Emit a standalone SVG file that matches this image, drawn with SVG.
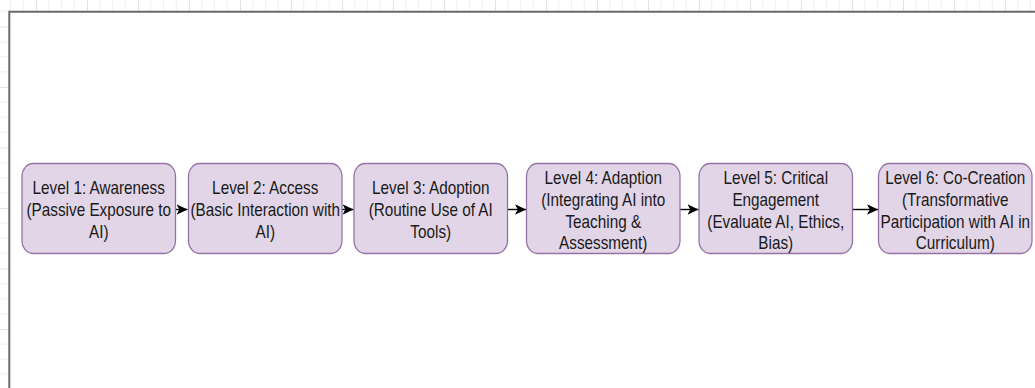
<svg xmlns="http://www.w3.org/2000/svg" width="1035" height="388" viewBox="0 0 1035 388">
  <defs>
    <style>
      .node { fill: #e1d5e7; stroke: #9673a6; stroke-width: 1.3; }
      .lbl { font-family: "Liberation Sans", Arial, sans-serif; font-size: 15.3px; fill: #1a1a1a; text-anchor: middle; }
      .edge { fill: none; stroke: #000; stroke-width: 1.4; }
      .minor { stroke: #f0f0f0; stroke-width: 1; }
      .major { stroke: #e2e2e2; stroke-width: 1; }
    </style>
    <!-- canvas grid: one major cell with three minor subdivisions each way -->
    <pattern id="grid" patternUnits="userSpaceOnUse" x="36" y="26.5" width="51" height="60.5">
      <rect width="51" height="60.5" fill="#fff"/>
      <path class="minor" d="M12.75 0V60.5M25.5 0V60.5M38.25 0V60.5M0 15.125H51M0 30.25H51M0 45.375H51"/>
      <path class="major" d="M0.5 0V60.5M0 0.5H51"/>
    </pattern>
    <marker id="arrow" viewBox="0 0 11 11" refX="11" refY="5.5" markerWidth="11" markerHeight="11" markerUnits="userSpaceOnUse" orient="auto">
      <path d="M0 0.3L11 5.5L0 10.7L2.8 5.5Z" fill="#000"/>
    </marker>
  </defs>

  <!-- background grid and page -->
  <rect width="1035" height="388" fill="url(#grid)"/>
  <rect x="9.3" y="11.7" width="1030" height="380" fill="#fff"/>
  <path d="M9.3 388V11.7H1035" fill="none" stroke="#6b6b6b" stroke-width="2"/>

  <!-- connectors -->
  <g id="edges">
    <path class="edge" d="M175.5 209.5H187.5" marker-end="url(#arrow)"/>
    <path class="edge" d="M342 209.5H353.5" marker-end="url(#arrow)"/>
    <path class="edge" d="M507.5 209.5H526" marker-end="url(#arrow)"/>
    <path class="edge" d="M680 209.5H698.5" marker-end="url(#arrow)"/>
    <path class="edge" d="M852.5 209.5H878" marker-end="url(#arrow)"/>
  </g>

  <g id="level1">
    <rect class="node" x="22" y="163.5" width="153.5" height="90" rx="11" ry="13"/>
    <text class="lbl" transform="translate(98.75 194.3) scale(1 1.185)">Level 1: Awareness</text>
    <text class="lbl" transform="translate(98.75 216) scale(1 1.185)">(Passive Exposure to</text>
    <text class="lbl" transform="translate(98.75 237.7) scale(1 1.185)">AI)</text>
  </g>

  <g id="level2">
    <rect class="node" x="188.5" y="163.5" width="153.5" height="90" rx="11" ry="13"/>
    <text class="lbl" transform="translate(265.25 194.3) scale(1 1.185)">Level 2: Access</text>
    <text class="lbl" transform="translate(265.25 216) scale(1 1.185)">(Basic Interaction with</text>
    <text class="lbl" transform="translate(265.25 237.7) scale(1 1.185)">AI)</text>
  </g>

  <g id="level3">
    <rect class="node" x="354" y="163.5" width="153.5" height="90" rx="11" ry="13"/>
    <text class="lbl" transform="translate(430.75 194.3) scale(1 1.185)">Level 3: Adoption</text>
    <text class="lbl" transform="translate(430.75 216) scale(1 1.185)">(Routine Use of AI</text>
    <text class="lbl" transform="translate(430.75 237.7) scale(1 1.185)">Tools)</text>
  </g>

  <g id="level4">
    <rect class="node" x="526.5" y="163.5" width="153.5" height="90" rx="11" ry="13"/>
    <text class="lbl" transform="translate(603.25 184.2) scale(1 1.185)">Level 4: Adaption</text>
    <text class="lbl" transform="translate(603.25 205.9) scale(1 1.185)">(Integrating AI into</text>
    <text class="lbl" transform="translate(603.25 227.6) scale(1 1.185)">Teaching &amp;</text>
    <text class="lbl" transform="translate(603.25 249.3) scale(1 1.185)">Assessment)</text>
  </g>

  <g id="level5">
    <rect class="node" x="699" y="163.5" width="153.5" height="90" rx="11" ry="13"/>
    <text class="lbl" transform="translate(775.75 184.2) scale(1 1.185)">Level 5: Critical</text>
    <text class="lbl" transform="translate(775.75 205.9) scale(1 1.185)">Engagement</text>
    <text class="lbl" transform="translate(775.75 227.6) scale(1 1.185)">(Evaluate AI, Ethics,</text>
    <text class="lbl" transform="translate(775.75 249.3) scale(1 1.185)">Bias)</text>
  </g>

  <g id="level6">
    <rect class="node" x="878.5" y="163.5" width="153.5" height="90" rx="11" ry="13"/>
    <text class="lbl" transform="translate(955.25 184.2) scale(1 1.185)">Level 6: Co-Creation</text>
    <text class="lbl" transform="translate(955.25 205.9) scale(1 1.185)">(Transformative</text>
    <text class="lbl" transform="translate(955.25 227.6) scale(1 1.185)">Participation with AI in</text>
    <text class="lbl" transform="translate(955.25 249.3) scale(1 1.185)">Curriculum)</text>
  </g>
</svg>
